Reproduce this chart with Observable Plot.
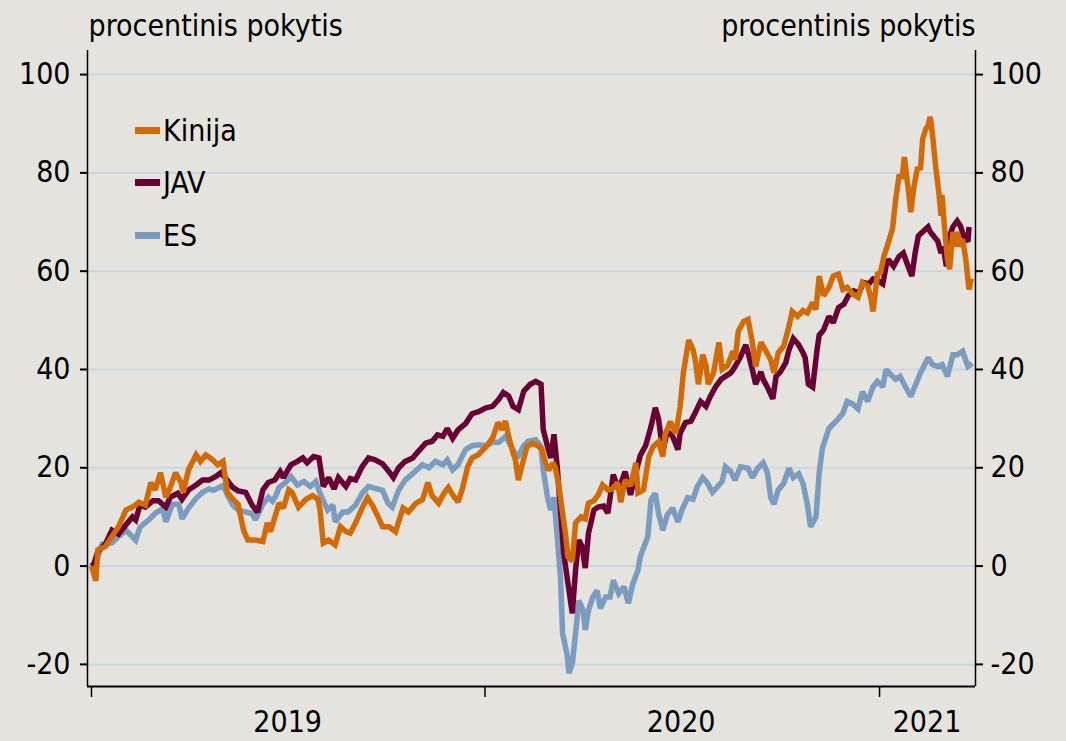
<!DOCTYPE html>
<html>
<head>
<meta charset="utf-8">
<script src="https://cdn.jsdelivr.net/npm/d3@7"></script>
<script src="https://cdn.jsdelivr.net/npm/@observablehq/plot@0.6"></script>
<style>
  html, body { margin: 0; padding: 0; background: #e4e3de; }
  #wrap { position: relative; width: 1066px; height: 741px; font-family: "DejaVu Sans Condensed", "DejaVu Sans", sans-serif; }
  #legend { position: absolute; left: 135px; top: 104px; font-size: 30px; color: #000; }
  #legend .item { display: flex; align-items: center; height: 52.5px; }
  #legend .sw { width: 25px; height: 7px; margin-right: 3px; }
</style>
</head>
<body>
<div id="wrap"><div id="legend"></div></div>
<script>
// Series: [days since 2019-01-01, percent change]
const seriesNames = ["Kinija", "JAV", "ES"];
const seriesColors = ["#d26b06", "#6a0134", "#7a9cc1"];

const kinija = [[0,0],[4,-3],[6,3.3],[13,4],[19,6],[25,8],[32,11.4],[38,12],[44,13],[50,12.4],[55,17],[59,15.5],[64,19],[69,14],[73,16],[78,19],[83,17],[85,15],[90,19.6],[97,22.6],[101,21.3],[106,22.6],[112,21.7],[117,20.6],[122,21.3],[126,15],[132,13.4],[136,12.6],[141,7.3],[145,5.3],[152,5.3],[159,5],[163,8.8],[166,7],[174,12.8],[178,11.8],[183,15.5],[186,15],[192,12],[199,13.6],[205,14.3],[210,13.6],[212,11.4],[215,4.7],[220,5.3],[226,4.3],[231,8],[236,7],[240,6.7],[245,8.8],[251,11.8],[256,13.9],[261,12.2],[265,10.4],[270,8],[276,8],[282,7],[289,11.8],[294,11],[301,12.8],[307,13.5],[312,17],[316,14.3],[322,12.8],[327,14.8],[331,16],[335,14.5],[340,13],[344,15.7],[349,20.2],[353,22],[359,22.7],[366,24.3],[372,26],[377,29.2],[381,27.8],[384,29.5],[387,26.3],[391,23],[393,21.8],[396,17.5],[400,21],[404,24.3],[409,25],[414,24.5],[418,23.7],[421,21],[424,19.5],[428,21],[430,20.2],[433,17],[437,10.8],[440,6],[442,1.9],[446,1],[449,8.8],[454,10],[458,9.6],[461,12.8],[466,13.3],[470,14.5],[474,16.5],[479,15.5],[483,15.7],[488,17],[491,13],[495,17.5],[500,16.3],[505,21],[507,14.9],[512,15.5],[517,22.3],[521,24.3],[526,25.3],[530,22.3],[532,26.7],[537,29.4],[542,27],[546,32.4],[549,39.3],[554,46],[558,44],[560,42],[563,37],[567,43],[570,40.8],[572,37],[577,39.3],[582,45.5],[585,40],[590,40.8],[595,43.7],[597,42],[600,47.8],[605,49.8],[609,50.2],[613,45.5],[616,40.6],[621,45.5],[625,44],[630,42],[633,39.3],[637,43.4],[642,44.7],[647,48.8],[650,51.8],[655,50.8],[660,52],[664,51.5],[669,53.6],[672,52.2],[675,59],[679,55],[684,56.7],[688,59],[693,59.4],[697,56.3],[701,56.7],[706,55.4],[711,54.7],[715,57.7],[720,57],[723,54.5],[725,51.8],[729,59.4],[732,59.8],[735,63],[738,65],[743,68.6],[746,74.7],[749,79.2],[752,79.2],[754,83.2],[758,76],[760,72],[763,77.3],[766,80.8],[769,81],[771,86.9],[774,89],[776,89.6],[778,91.4],[780,88],[783,81.4],[786,76],[788,71.3],[789,75.5],[791,69.6],[794,62.4],[796,60.4],[799,68],[801,65],[803,68],[806,65],[808,66.5],[811,62.4],[814,56.3],[816,58.5]];

const jav = [[0,0],[2,0.3],[6,3],[13,4.5],[19,7.3],[25,6.5],[32,8.4],[38,10],[41,9.4],[45,12.4],[50,12],[57,13.3],[62,13.3],[69,12],[73,14],[80,14.8],[84,13.6],[90,15.5],[97,16.5],[103,17.5],[109,17.5],[115,18.2],[120,19],[124,18],[131,16],[136,15.3],[143,15],[149,12.4],[154,11],[159,15.5],[164,17],[170,17.5],[175,19.2],[178,18],[185,20.6],[191,21.3],[196,22],[200,21],[206,22.3],[211,22],[215,16.2],[220,18],[225,15.7],[229,18],[236,16.2],[240,17.8],[245,17.5],[251,20.2],[257,22],[263,21.6],[270,20.8],[276,19.2],[280,18],[285,20],[291,21.3],[298,22],[303,23.3],[310,25],[316,25.4],[321,26.7],[326,26.4],[330,28],[335,26],[340,27.7],[347,29],[353,31],[359,31.4],[366,32.2],[372,32.5],[378,34],[382,35.3],[387,34.6],[391,32.5],[396,31.8],[401,35.6],[407,37],[412,37.6],[417,37],[419,27.8],[423,24.3],[426,22],[429,26.8],[432,20.2],[435,11.4],[438,2.6],[442,-3.5],[446,-9.6],[449,-0.8],[452,5.3],[455,4],[458,-0.4],[461,6.7],[466,11.4],[470,12],[475,12.2],[479,10.8],[481,13.9],[484,18.6],[489,15.5],[495,19.2],[500,14.5],[505,19],[509,22.5],[514,24.5],[519,28.4],[523,32.2],[526,29.9],[530,23.3],[534,27.5],[539,26.4],[544,23.7],[546,27],[551,29.2],[556,29.5],[560,31.2],[565,33.5],[570,32.5],[574,34.5],[579,36.5],[584,38],[588,38.6],[593,39.3],[597,40.6],[602,42.6],[607,45],[609,43.4],[613,40],[616,37],[621,39.5],[623,38],[627,36.4],[632,34],[635,38.6],[639,39.5],[644,41.4],[647,44],[651,46.3],[656,45],[660,43.4],[662,42.4],[665,37],[669,36.4],[673,44],[675,47],[679,48],[684,50.8],[688,49.5],[693,52.6],[698,53.3],[702,55],[707,56],[712,55.6],[716,57.7],[721,57.4],[725,58.4],[730,58],[734,57.4],[737,61],[739,62.4],[744,61],[749,63],[753,63.7],[758,60.7],[761,59],[764,63.7],[767,67.2],[772,68.2],[776,69],[778,68],[781,67.2],[785,66.1],[788,63.7],[790,65],[793,61],[795,66.5],[799,69],[803,70.2],[806,69.2],[809,67.2],[813,66],[814,69]];

const es = [[0,0],[4,0.8],[10,4.5],[19,4.7],[25,6],[32,7.3],[41,5.3],[45,7.9],[53,9.4],[59,10.7],[66,11.7],[69,9],[75,12.6],[81,12.6],[84,9.6],[90,11.8],[97,13.8],[103,15],[109,15.7],[113,15.4],[122,16.4],[126,14.5],[131,12.4],[136,11.4],[143,11],[149,10.7],[152,9.4],[159,12.6],[164,14],[168,13.2],[171,14.3],[174,16],[180,17],[185,18.2],[191,16.5],[197,17.2],[203,16.2],[208,17.2],[212,14.8],[219,11.4],[224,12.4],[226,9],[233,11],[238,11],[245,12.4],[251,14.8],[257,16.2],[263,15.8],[270,15.4],[275,12.8],[279,12],[285,15.5],[291,17.5],[299,19],[307,20.6],[313,20],[319,21.3],[326,20.6],[330,21.6],[335,19.6],[340,20.6],[347,23.7],[353,24.5],[359,24.7],[366,24.5],[372,25.2],[378,25.2],[384,26.4],[391,23.7],[395,22],[401,24.5],[405,25.4],[412,25.7],[417,24.3],[419,19.6],[423,14],[426,11.4],[429,14],[432,6],[435,-2.2],[437,-13.7],[441,-17.8],[443,-21.8],[446,-19.8],[450,-11.6],[452,-7],[456,-9],[458,-13],[461,-9],[465,-6.3],[469,-5],[472,-8.6],[477,-6.3],[481,-6.3],[484,-2.9],[489,-5.6],[494,-4.2],[498,-7.6],[502,-3.7],[507,-0.8],[509,1.9],[516,6],[519,13.5],[523,14.8],[526,10.7],[530,7.3],[534,10.4],[539,11.8],[544,9],[548,11.6],[553,13.9],[558,13.6],[562,16.2],[567,18],[571,17],[576,15],[581,16.2],[585,17.2],[588,20.2],[593,19.2],[597,17.5],[602,20.2],[609,19.9],[613,18],[618,19.9],[623,21],[627,19],[630,14],[633,12.6],[637,15.5],[642,16.8],[647,19.9],[651,18],[656,18.8],[660,16.8],[664,12.6],[667,8],[672,10],[675,19],[678,24],[684,28],[692,29.8],[697,31.1],[701,33.5],[706,33],[711,32],[715,35.5],[720,33.5],[725,36.5],[729,37.6],[734,36.5],[737,40],[741,39],[746,38],[750,38.6],[755,36.5],[760,34.5],[764,36.7],[769,39.3],[776,42.4],[780,41],[785,40.6],[789,41],[794,38.6],[799,43],[803,43],[808,43.7],[813,40.6],[817,41.2]];

const yTicks = [-20, 0, 20, 40, 60, 80, 100];
const yDomain = [-24.5, 104.9];
const xDomainDays = [-3.7, 820];
const yearTickDates = ["2019-01-01", "2020-01-01", "2021-01-01"];
const yearLabels = ["2019", "2020", "2021"];
const yearLabelDates = ["2019-07-02", "2020-07-01", "2021-02-14"];
const axisTitle = "procentinis pokytis";

const base = Date.UTC(2019, 0, 1);
const toDate = d => new Date(base + d * 864e5);
const series = [kinija, jav, es];
const rows = series.flatMap((s, i) => s.map(([d, v]) => ({date: toDate(d), value: v, name: seriesNames[i]})));
const drawOrder = ["ES", "JAV", "Kinija"];
const color = Object.fromEntries(seriesNames.map((n, i) => [n, seriesColors[i]]));
const FS = 30;

const xDomain = xDomainDays.map(toDate);
const chart = Plot.plot({
  width: 1066,
  height: 741,
  marginLeft: 87,
  marginRight: 91,
  marginTop: 50,
  marginBottom: 55,
  style: {background: "#e4e3de", fontFamily: '"DejaVu Sans Condensed", "DejaVu Sans", sans-serif', fontSize: FS + "px", color: "#000"},
  x: {type: "utc", domain: xDomain},
  y: {domain: yDomain},
  marks: [
    Plot.gridY(yTicks, {stroke: "#c9d6df", strokeOpacity: 1, strokeWidth: 2}),
    ...drawOrder.map(n => Plot.line(rows.filter(r => r.name === n), {x: "date", y: "value", stroke: color[n], strokeWidth: 5.5, strokeLinejoin: "miter", strokeMiterlimit: 2, strokeLinecap: "butt"})),
    Plot.axisY(yTicks, {anchor: "left", tickSize: 7, tickPadding: 10, strokeWidth: 2, fontSize: FS, tickFormat: d => String(d), label: null}),
    Plot.axisY(yTicks, {anchor: "right", tickSize: 7, tickPadding: 8, strokeWidth: 2, fontSize: FS, tickFormat: d => String(d), label: null}),
    Plot.ruleX([xDomain[0]], {stroke: "#000", strokeWidth: 1.5}),
    Plot.ruleX([xDomain[1]], {stroke: "#000", strokeWidth: 1.5}),
    Plot.ruleY([yDomain[0]], {stroke: "#000", strokeWidth: 2}),
    Plot.axisX(yearTickDates.map(d => new Date(d)), {anchor: "bottom", tickSize: 11, strokeWidth: 1.5, tickFormat: () => "", label: null}),
    Plot.text(yearLabels, {x: (d, i) => new Date(yearLabelDates[i]), text: d => d, frameAnchor: "bottom", dy: 36, lineAnchor: "middle", fontSize: FS, fill: "#000"}),
    Plot.text([axisTitle], {frameAnchor: "top-left", textAnchor: "start", lineAnchor: "middle", dx: 1, dy: -24, fontSize: FS, fill: "#000"}),
    Plot.text([axisTitle], {frameAnchor: "top-right", textAnchor: "end", lineAnchor: "middle", dx: 0, dy: -24, fontSize: FS, fill: "#000"})
  ]
});
const wrap = document.getElementById("wrap");
wrap.insertBefore(chart, wrap.firstChild);

const legend = document.getElementById("legend");
seriesNames.forEach((n, i) => {
  const item = document.createElement("div");
  item.className = "item";
  const sw = document.createElement("span");
  sw.className = "sw";
  sw.style.background = seriesColors[i];
  const t = document.createElement("span");
  t.textContent = n;
  item.appendChild(sw);
  item.appendChild(t);
  legend.appendChild(item);
});
</script>
</body>
</html>
